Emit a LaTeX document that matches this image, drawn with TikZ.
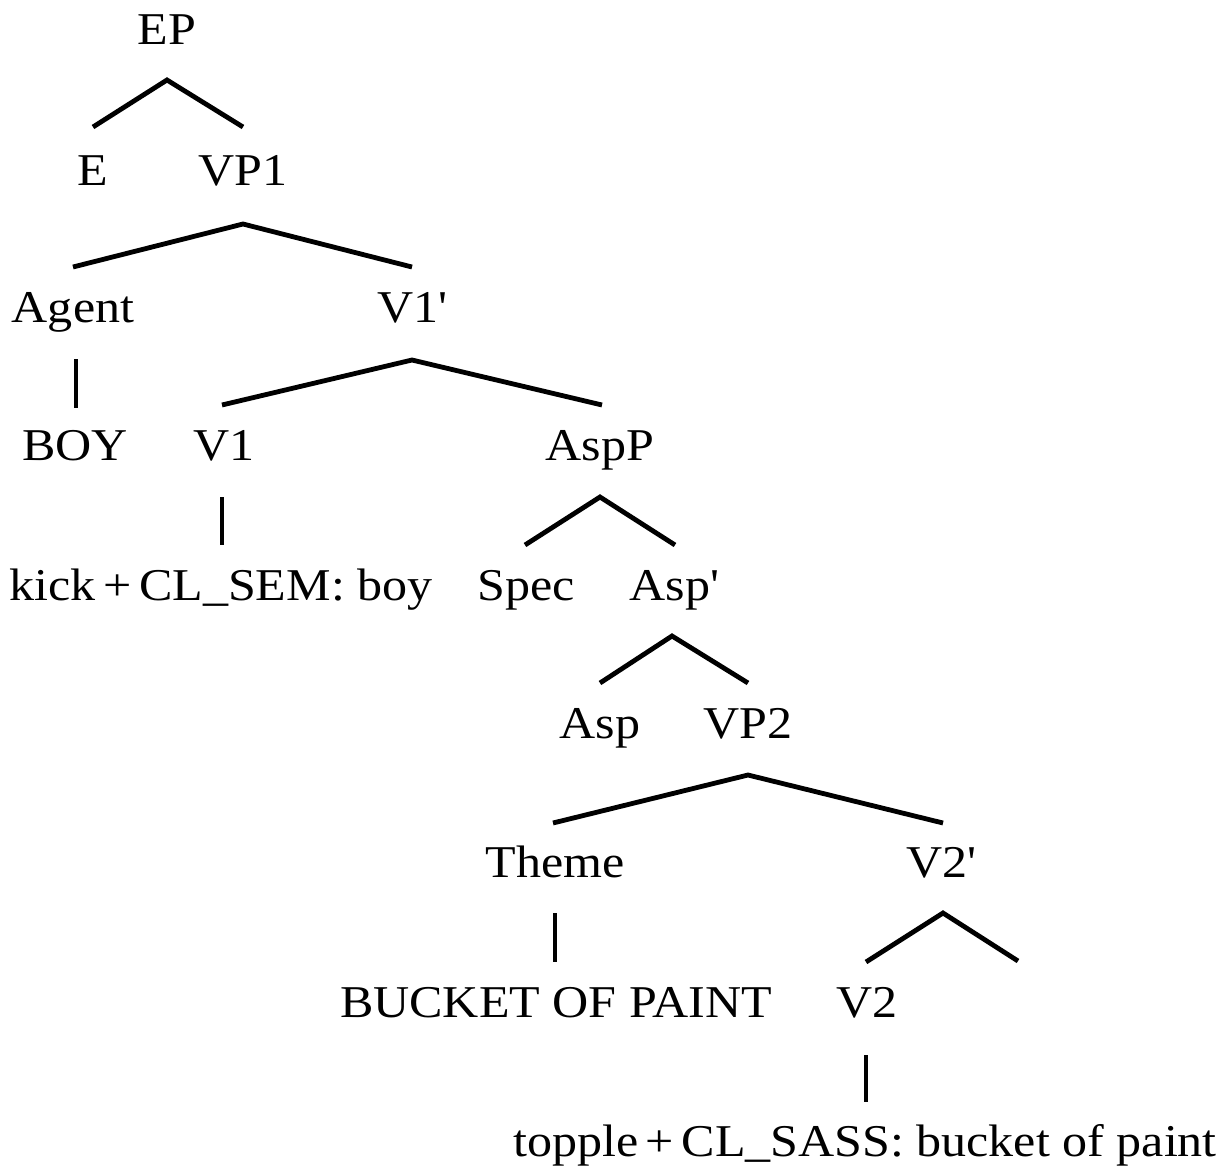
\documentclass[tikz,border=0pt]{standalone}
\usepackage{fontspec}
\setmainfont{Liberation Serif}[FakeStretch=1.1]
\begin{document}
\begin{tikzpicture}[x=1pt,y=-1pt,
  tn/.style={anchor=base, inner sep=0pt, font=\fontsize{45.5}{54}\selectfont},
  br/.style={line width=4.8pt, line join=miter}]
\useasboundingbox (0,0) rectangle (1223,1167);
% nodes
\node[tn] (EP)    at (167,44)   {EP};
\node[tn] (E)     at (93,185)   {E};
\node[tn] (VP1)   at (243,185)  {VP1};
\node[tn] (Agent) at (73,322)   {Agent};
\node[tn] (V1p)   at (412,322)  {V1\textquotesingle};
\node[tn] (BOY)   at (75,460)   {BOY};
\node[tn] (V1)    at (224,460)  {V1};
\node[tn] (AspP)  at (600,460)  {AspP};
\node[tn] (kick)  at (221,600)  {kick\,+\,CL\_SEM: boy};
\node[tn] (Spec)  at (526,600)  {Spec};
\node[tn] (Aspp)  at (674,600)  {Asp\textquotesingle};
\node[tn] (Asp)   at (600,738)  {Asp};
\node[tn] (VP2)   at (748,738)  {VP2};
\node[tn] (Theme) at (555,877)  {Theme};
\node[tn] (V2p)   at (941,877)  {V2\textquotesingle};
\node[tn] (BUCKET) at (556,1017) {BUCKET OF PAINT};
\node[tn] (V2)    at (867,1017) {V2};
\node[tn] (topple) at (865,1156) {topple\,+\,CL\_SASS: bucket of paint};
\coordinate (V2end) at (1018,961);
% branches
\draw[br] ([yshift=58pt]E.base) -- ([yshift=-36pt]EP.base) -- ([yshift=58pt]VP1.base);
\draw[br] ([yshift=55pt]Agent.base) -- ([yshift=-39pt]VP1.base) -- ([yshift=55pt]V1p.base);
\draw[br] ([yshift=-37pt,xshift=3pt]Agent.base) -- ([yshift=52pt,xshift=1pt]BOY.base);
\draw[br] ([yshift=55pt,xshift=-2pt]V1.base) -- ([yshift=-38pt]V1p.base) -- ([yshift=55pt,xshift=2pt]AspP.base);
\draw[br] ([yshift=-37pt,xshift=-2pt]V1.base) -- ([yshift=55pt,xshift=1pt]kick.base);
\draw[br] ([yshift=55pt,xshift=-1pt]Spec.base) -- ([yshift=-37pt]AspP.base) -- ([yshift=55pt,xshift=1pt]Aspp.base);
\draw[br] ([yshift=55pt]Asp.base) -- ([yshift=-36pt,xshift=-2pt]Aspp.base) -- ([yshift=55pt]VP2.base);
\draw[br] ([yshift=54pt,xshift=-2pt]Theme.base) -- ([yshift=-37pt]VP2.base) -- ([yshift=54pt,xshift=2pt]V2p.base);
\draw[br] ([yshift=-36pt]Theme.base) -- ([yshift=55pt,xshift=-1pt]BUCKET.base);
\draw[br] ([yshift=55pt,xshift=-1pt]V2.base) -- ([yshift=-36pt,xshift=2pt]V2p.base) -- (V2end);
\draw[br] ([yshift=-38pt,xshift=-1pt]V2.base) -- ([yshift=54pt,xshift=1pt]topple.base);
\end{tikzpicture}
\end{document}
